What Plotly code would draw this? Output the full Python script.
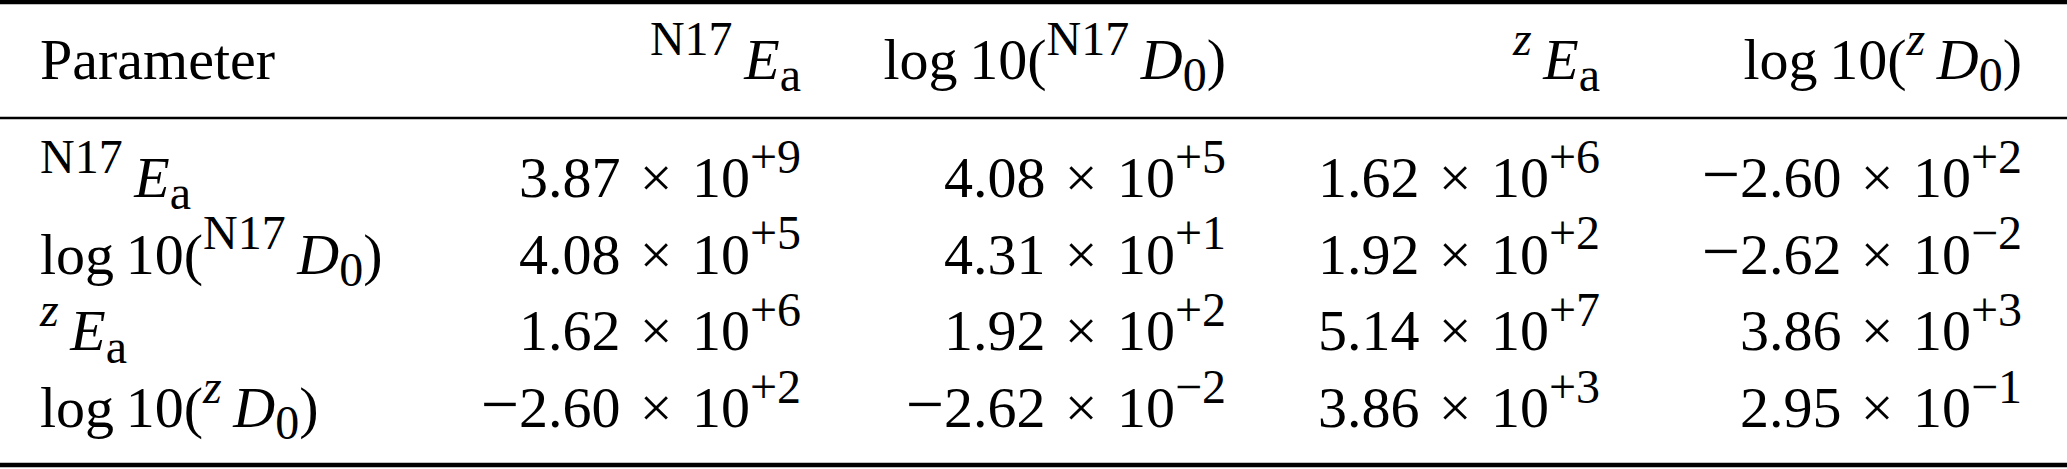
import plotly.graph_objects as go

# ---------------- data ----------------
row_labels = [
    "<sup>N17</sup>\u2009<i>E</i><sub>a</sub>",
    "log\u200910(<sup>N17</sup>\u2009<i>D</i><sub>0</sub>)",
    "<sup><i>z</i></sup>\u2009<i>E</i><sub>a</sub>",
    "log\u200910(<sup><i>z</i></sup>\u2009<i>D</i><sub>0</sub>)",
]
header_labels = [
    "Parameter",
    "<sup>N17</sup>\u2009<i>E</i><sub>a</sub>",
    "log\u200910(<sup>N17</sup>\u2009<i>D</i><sub>0</sub>)",
    "<sup><i>z</i></sup>\u2009<i>E</i><sub>a</sub>",
    "log\u200910(<sup><i>z</i></sup>\u2009<i>D</i><sub>0</sub>)",
]
col_N17_Ea = [3.87e9, 4.08e5, 1.62e6, -2.60e2]
col_log_N17_D0 = [4.08e5, 4.31e1, 1.92e2, -2.62e-2]
col_z_Ea = [1.62e6, 1.92e2, 5.14e7, 3.86e3]
col_log_z_D0 = [-2.60e2, -2.62e-2, 3.86e3, 2.95e-1]
value_columns = [col_N17_Ea, col_log_N17_D0, col_z_Ea, col_log_z_D0]

# ---------------- layout constants ----------------
W, H = 2067, 469
FONT = "Liberation Serif"
FS = 58
SCRIPT_FS = 48
MINUS_FS = 68
COL0_LEFT = 40
COL_RIGHT = [801, 1226, 1600, 2022]
HEADER_BASE = 79
ROW_BASE0 = 197
ROW_STEP = 76.7
RULES = [(2, 4.5), (118, 2.6), (465, 4.5)]
TIMES_SP = "\u2004"  # spacing around the multiplication sign
MINUS = f'<span style="font-size:{MINUS_FS}px">\u2212</span>'


def big_scripts(s):
    s = s.replace("<sup>", f'<sup><span style="font-size:{SCRIPT_FS}px">').replace("</sup>", "</span></sup>")
    s = s.replace("<sub>", f'<sub><span style="font-size:{SCRIPT_FS}px">').replace("</sub>", "</span></sub>")
    return s


def sci(v):
    m, e = f"{v:.2e}".split("e")
    neg = m.startswith("-")
    m = m.lstrip("-")
    sign = "+" if int(e) >= 0 else "\u2212"
    body = big_scripts(f"{m}{TIMES_SP}\u00d7{TIMES_SP}10<sup>{sign}{abs(int(e))}</sup>")
    return (MINUS if neg else "") + body


def ypt(baseline):
    # scatter text with 'middle' position puts the baseline 0.25*fontsize below the point
    return baseline - 0.25 * FS


fig = go.Figure()
font = dict(family=FONT, size=FS, color="black")

row_y = [ypt(ROW_BASE0 + i * ROW_STEP) for i in range(len(row_labels))]
hdr = [big_scripts(s) for s in header_labels]
rows = [big_scripts(s) for s in row_labels]

# header row
fig.add_trace(go.Scatter(x=[COL0_LEFT], y=[ypt(HEADER_BASE)], text=[hdr[0]],
                         mode="text", textposition="middle right", textfont=font,
                         hoverinfo="skip", showlegend=False))
fig.add_trace(go.Scatter(x=COL_RIGHT, y=[ypt(HEADER_BASE)] * 4, text=hdr[1:],
                         mode="text", textposition="middle left", textfont=font,
                         hoverinfo="skip", showlegend=False))
# row labels
fig.add_trace(go.Scatter(x=[COL0_LEFT] * len(rows), y=row_y, text=rows,
                         mode="text", textposition="middle right", textfont=font,
                         hoverinfo="skip", showlegend=False))
# values
for xr, col in zip(COL_RIGHT, value_columns):
    fig.add_trace(go.Scatter(x=[xr] * len(col), y=row_y, text=[sci(v) for v in col],
                             mode="text", textposition="middle left", textfont=font,
                             hoverinfo="skip", showlegend=False))

for y, w in RULES:
    fig.add_shape(type="line", xref="paper", yref="y", x0=0, x1=1, y0=y, y1=y,
                  line=dict(color="black", width=w))

fig.update_layout(
    width=W, height=H, margin=dict(l=0, r=0, t=0, b=0),
    paper_bgcolor="white", plot_bgcolor="white",
    xaxis=dict(range=[0, W], visible=False, fixedrange=True),
    yaxis=dict(range=[H, 0], visible=False, fixedrange=True),
)
fig.write_html("out.html", config={"displayModeBar": False},
               post_script="document.body.style.margin='0';document.body.style.overflow='hidden';")
